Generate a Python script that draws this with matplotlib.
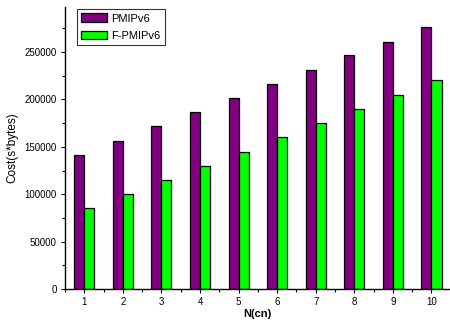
import matplotlib
matplotlib.use("Agg")
import matplotlib.pyplot as plt
import numpy as np
from matplotlib.ticker import MultipleLocator

plt.rcParams['font.family'] = ['Liberation Sans', 'DejaVu Sans']

n_cn = [1, 2, 3, 4, 5, 6, 7, 8, 9, 10]
pmipv6 = [141500, 156500, 171500, 186500, 201500, 216500, 231500, 246500, 261000, 276000]
f_pmipv6 = [85000, 100000, 115000, 130000, 145000, 160000, 175000, 190000, 205000, 220000]

fig = plt.figure(figsize=(4.5, 3.27), dpi=100)
ax = fig.add_axes([65/450, 1-289/327, 385/450, 282/327])

x = np.array(n_cn)
w = 0.26
ax.bar(x - w/2, pmipv6, w, color='#800080', edgecolor='black', linewidth=0.9, label='PMIPv6')
ax.bar(x + w/2, f_pmipv6, w, color='#00FF00', edgecolor='black', linewidth=0.9, label='F-PMIPv6')

ax.set_xlim(0.5, 10.48)
ax.set_ylim(0, 297500)
ax.set_xticks(n_cn)
ax.xaxis.set_minor_locator(MultipleLocator(0.5))
ax.yaxis.set_major_locator(MultipleLocator(50000))
ax.yaxis.set_minor_locator(MultipleLocator(25000))
ax.spines['top'].set_visible(False)
ax.spines['right'].set_visible(False)
for s in ('left', 'bottom'):
    ax.spines[s].set_linewidth(1.0)
ax.tick_params(which='major', length=3, width=0.8, labelsize=7, direction='out', pad=3)
ax.tick_params(which='minor', length=2, width=0.8, direction='out')
ax.set_xlabel('N(cn)', fontsize=8, fontweight='bold', labelpad=1)
ax.set_ylabel('Cost(s*bytes)', fontsize=8.5, labelpad=4)

leg = ax.legend(loc='upper left', bbox_to_anchor=(0.031, 0.993), fontsize=8, frameon=True,
                fancybox=False, edgecolor='black', borderpad=0.4, labelspacing=0.65,
                handlelength=2.3, handleheight=0.8, handletextpad=0.35, borderaxespad=0.0)
leg.get_frame().set_linewidth(0.8)

fig.savefig('out.png', dpi=100)
